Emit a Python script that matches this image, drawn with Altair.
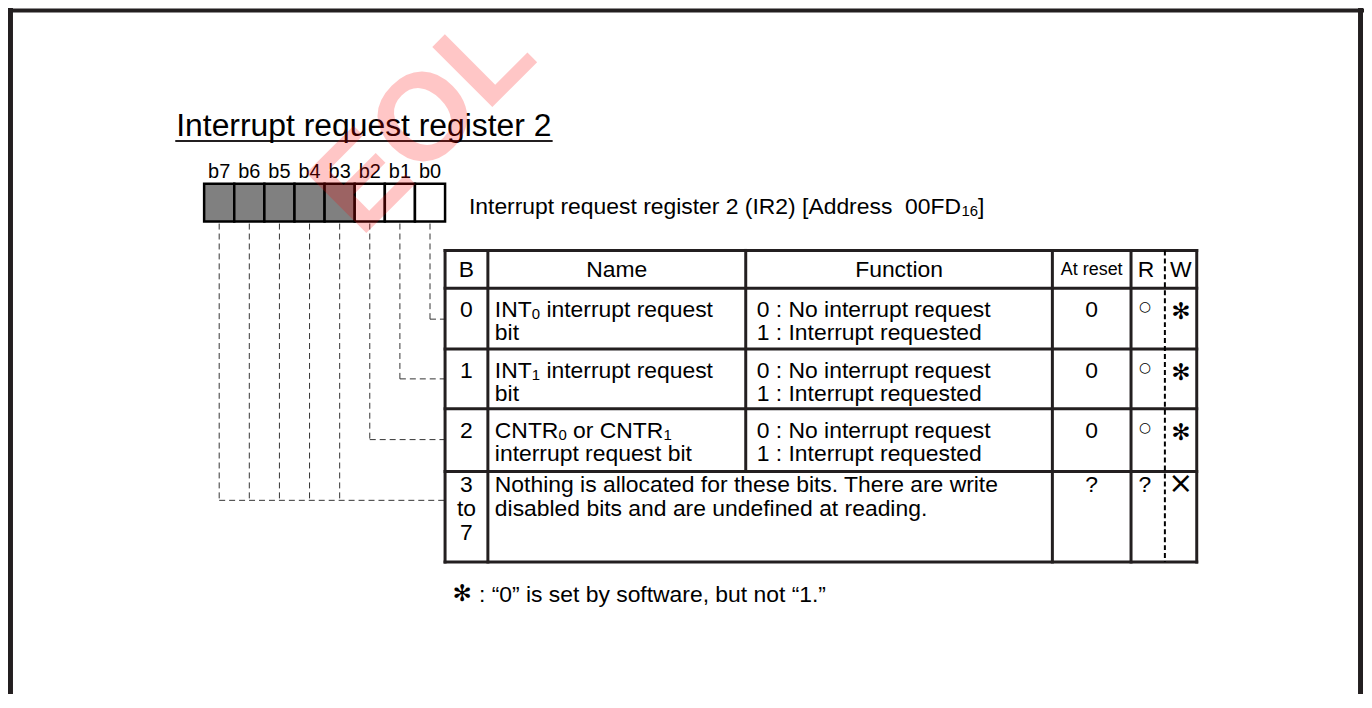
import altair as alt
import pandas as pd

NB = "\u00a0"  # non-breaking space (SVG collapses ordinary double spaces)

# ---------------- content ----------------
TITLE = "Interrupt request register 2"
BIT_LABELS = ["b7", "b6", "b5", "b4", "b3", "b2", "b1", "b0"]
BIT_SHADED = [True, True, True, True, True, False, False, False]
REG_NAME = ["Interrupt request register 2 (IR2) [Address" + NB + " 00FD", "16", "]"]
HEADERS = ["B", "Name", "Function", "At reset", "R", "W"]
ROW_BITS = [["0"], ["1"], ["2"], ["3", "to", "7"]]
ROW_NAME_L1 = [[("INT", 0), ("0", 1), (" interrupt request", 0)],
               [("INT", 0), ("1", 1), (" interrupt request", 0)],
               [("CNTR", 0), ("0", 1), (" or CNTR", 0), ("1", 1)]]
ROW_NAME_L2 = ["bit", "bit", "interrupt request bit"]
ROW_FUNC = [["0 : No interrupt request", "1 : Interrupt requested"]] * 3
ROW3_TEXT = ["Nothing is allocated for these bits. There are write",
             "disabled bits and are undefined at reading."]
AT_RESET = ["0", "0", "0", "?"]
R_COL = ["○", "○", "○", "?"]
W_COL = ["✻", "✻", "✻", "×"]
FOOT_MARK = "✻"
FOOT_TEXT = ": “0” is set by software, but not “1.”"
WATERMARK = "EOL"

# ---------------- layout ----------------
W, H = 1362, 686
X0, Y0 = 8, 8
FONT = "Liberation Sans, Arial, Helvetica, sans-serif"
SYM_FONT = "DejaVu Sans, sans-serif"
FS = 23
FS_SUB = 15
BOX_X0, BOX_W, BOX_Y0, BOX_Y1 = 205, 30.25, 183, 221
TX = [447, 490, 749, 1057, 1136, 1170, 1202]
TY = [250, 288, 349, 409, 472, 563]
LEADER_Y = [319, 379, 440, 501]
NAME_X, FUNC_X = 497, 760
ROW3_LINE = 24

ARIAL = {' ': 278, NB: 278, '(': 333, ')': 333, '[': 278, ']': 278, ':': 278,
         '.': 278, ',': 278, '?': 556, 'A': 667, 'B': 667, 'C': 722, 'D': 722,
         'F': 611, 'I': 278, 'N': 722, 'R': 722, 'T': 611, 'W': 944, 'a': 556,
         'b': 556, 'c': 500, 'd': 556, 'e': 556, 'f': 278, 'g': 556, 'h': 556,
         'i': 222, 'l': 222, 'n': 556, 'o': 556, 'p': 556, 'q': 556, 'r': 333,
         's': 500, 't': 278, 'u': 556, 'w': 722, 'y': 500, '“': 333, '”': 333}


def tw(s, size):
    return sum(ARIAL.get(c, 556) for c in s) / 1000 * size


left, center, syms, rects, solid, dashed, rwdash = [], [], [], [], [], [], []


def txt(lst, x, y, t, size):
    lst.append(dict(x=x, y=y, text=t, size=size))


def rule(lst, x, x2, y, y2, w=3):
    lst.append(dict(x=x, x2=x2, y=y, y2=y2, w=w))


def run(x, y, segments, size_main, size_sub, drop=2):
    """Place a run of normal/subscript segments left to right."""
    for seg, sub in segments:
        size = size_sub if sub else size_main
        lead = len(seg) - len(seg.lstrip(" "))
        x += tw(" " * lead, size)
        body = seg.lstrip(" ")
        txt(left, x, y + (drop if sub else 0), body, size)
        x += tw(body, size)
    return x


# outer frame
rule(solid, 10.5, 10.5, 8, Y0 + H, 5)
rule(solid, 8, 1369, 9, 9, 4)
rule(solid, 1366.5, 1366.5, 8, Y0 + H, 5)

# title
txt(left, 177, 135, TITLE, 32)
rule(solid, 177, 177 + tw(TITLE, 32), 140, 140, 2)

# bit boxes and labels
centers = []
for i, (lbl, sh) in enumerate(zip(BIT_LABELS, BIT_SHADED)):
    x = BOX_X0 + i * BOX_W
    cx = x + BOX_W / 2
    centers.append(cx)
    rects.append(dict(x=x, x2=x + BOX_W, y=BOX_Y0, y2=BOX_Y1,
                      fill="#808080" if sh else "#ffffff"))
    txt(center, cx, 177, lbl, 20)

# register description with subscript
run(471, 213, [(REG_NAME[0], 0), (REG_NAME[1], 1), (REG_NAME[2], 0)], FS, FS_SUB)

# leader lines
for i, cx in enumerate(centers):
    bit = 7 - i
    ly = LEADER_Y[min(bit, 3)]
    rule(dashed, cx, cx, BOX_Y1 + 2, ly, 1)
for bit in range(3):
    cx = centers[7 - bit]
    rule(dashed, cx, TX[0], LEADER_Y[bit], LEADER_Y[bit], 1)
rule(dashed, centers[0], TX[0], LEADER_Y[3], LEADER_Y[3], 1)

# table grid
for y in TY:
    rule(solid, TX[0], TX[-1], y, y, 3)
for j, xv in enumerate(TX):
    if j == 5:
        rule(rwdash, xv, xv, TY[0], TY[-1], 2)
    elif j == 2:
        rule(solid, xv, xv, TY[0], TY[4], 3)
    else:
        rule(solid, xv, xv, TY[0], TY[-1], 3)

# headers
hx = [(TX[0] + TX[1]) / 2, (TX[1] + TX[2]) / 2, (TX[2] + TX[3]) / 2,
      (TX[3] + TX[4]) / 2, 1151, 1186]
for hxv, h in zip(hx, HEADERS):
    if h == "At reset":
        txt(center, hxv, 275, h, 18)
    else:
        txt(center, hxv, 277, h, FS)

# rows 0..2
for r in range(3):
    top = TY[r + 1]
    b1, b2 = top + 29, top + 52
    txt(center, hx[0], b1, ROW_BITS[r][0], FS)
    run(NAME_X, b1, ROW_NAME_L1[r], FS, FS_SUB)
    txt(left, NAME_X, b2, ROW_NAME_L2[r], FS)
    txt(left, FUNC_X, b1, ROW_FUNC[r][0], FS)
    txt(left, FUNC_X, b2, ROW_FUNC[r][1], FS)
    txt(center, hx[3], b1, AT_RESET[r], FS)
    txt(syms, 1150, b1 - 10, R_COL[r], 14)
    txt(syms, 1186, b1 - 5, W_COL[r], 23)

# row 3
top = TY[4]
for k, t in enumerate(ROW_BITS[3]):
    txt(center, hx[0], top + 21 + ROW3_LINE * k, t, FS)
for k, t in enumerate(ROW3_TEXT):
    txt(left, NAME_X, top + 21 + ROW3_LINE * k, t, FS)
txt(center, hx[3], top + 21, AT_RESET[3], FS)
txt(center, 1150, top + 21, R_COL[3], FS)
txt(syms, 1186, top + 13, W_COL[3], 30)

# footnote
txt(syms, 464, 595, FOOT_MARK, 23)
txt(left, 481, 603, FOOT_TEXT, FS)

# ---------------- chart ----------------
xs = alt.Scale(domain=[X0, X0 + W], nice=False, zero=False)
ys = alt.Scale(domain=[Y0, Y0 + H], reverse=True, nice=False, zero=False)
X = alt.X("x:Q", scale=xs, axis=None)
Y = alt.Y("y:Q", scale=ys, axis=None)


def rule_layer(rows, **kw):
    return alt.Chart(pd.DataFrame(rows)).mark_rule(**kw).encode(
        x=X, x2="x2:Q", y=Y, y2="y2:Q",
        size=alt.Size("w:Q", scale=None, legend=None))


def text_layer(rows, **kw):
    return alt.Chart(pd.DataFrame(rows)).mark_text(**kw).encode(
        x=X, y=Y, text="text:N",
        size=alt.Size("size:Q", scale=None, legend=None))


boxes = alt.Chart(pd.DataFrame(rects)).mark_rect(
    stroke="black", strokeWidth=2.5).encode(
    x=X, x2="x2:Q", y=Y, y2="y2:Q", fill=alt.Fill("fill:N", scale=None))

layers = [
    rule_layer(dashed, color="#333333", strokeDash=[6, 4], strokeCap="butt"),
    rule_layer(solid, color="#231f20", strokeCap="square"),
    rule_layer(rwdash, color="#000000", strokeDash=[5, 3], strokeCap="butt"),
    boxes,
    text_layer(left, align="left", baseline="alphabetic", font=FONT, color="black"),
    text_layer(center, align="center", baseline="alphabetic", font=FONT, color="black"),
    text_layer(syms, align="center", baseline="middle", font=SYM_FONT, color="black"),
    alt.Chart(pd.DataFrame([dict(x=426, y=122, text=WATERMARK)])).mark_text(
        align="center", baseline="middle", font=FONT, fontWeight="bold",
        fontSize=124, angle=315, color="#ff0000", opacity=0.22).encode(
        x=X, y=Y, text="text:N"),
]

chart = alt.layer(*layers).properties(
    width=W, height=H, padding=0,
    autosize=alt.AutoSizeParams(type="none"),
    background="white",
).configure_view(stroke=None)

chart.save("out.html", embed_options={"renderer": "svg", "actions": False})
